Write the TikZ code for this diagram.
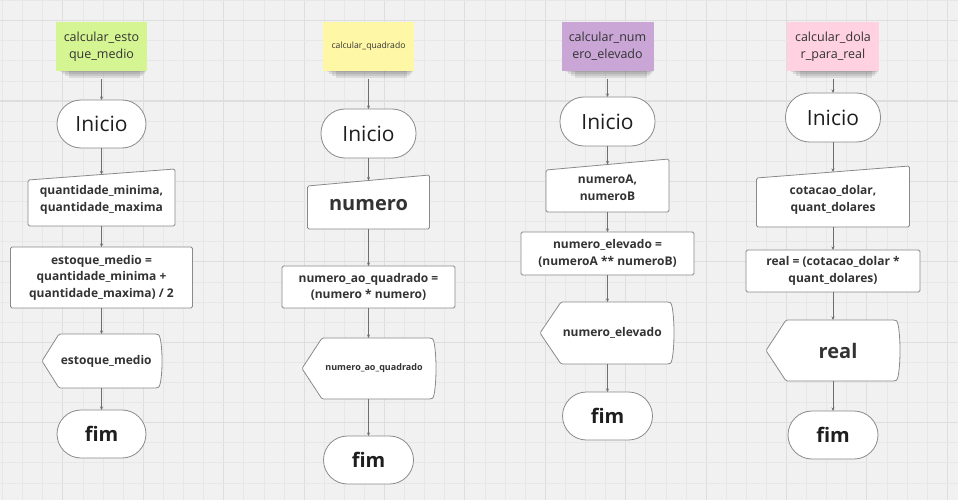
\documentclass[tikz,border=0pt]{standalone}
\usepackage{fontspec}
\setmainfont{Open Sans}
\usetikzlibrary{arrows.meta,calc}
\pgfdeclarelayer{gridlayer}
\pgfdeclarelayer{shapelayer}
\pgfsetlayers{gridlayer,shapelayer,main}
\definecolor{bgc}{HTML}{F1F1F1}
\definecolor{minorc}{HTML}{E7E7E7}
\definecolor{majorc}{HTML}{DEDEDE}
\definecolor{edge}{HTML}{8A8A8A}
\definecolor{arrowc}{HTML}{6E6E6E}
\definecolor{txt}{HTML}{333333}
\definecolor{txtdark}{HTML}{1E1E1E}
\definecolor{sgreen}{HTML}{D5F592}
\definecolor{syellow}{HTML}{FDF7A6}
\definecolor{spurple}{HTML}{C9A6D6}
\definecolor{spink}{HTML}{FFD1E1}
\tikzset{
 every node/.style={inner sep=0pt, outer sep=0pt},
 sticky/.style={rectangle, minimum width=91pt, minimum height=49pt, align=center, text=txt, font=\fontsize{12.5}{17}\selectfont},
 term/.style={rectangle, rounded corners=24pt, draw=edge, line width=0.8pt, fill=white, minimum height=48pt, text=txtdark},
 inicio/.style={term, font=\fontsize{21}{24}\selectfont},
 fimst/.style={term, font=\fontsize{20}{24}\selectfont\bfseries},
 proc/.style={rectangle, rounded corners=1.5pt, draw=edge, line width=0.8pt, fill=white, align=center, text=txt, font=\fontsize{12}{16.5}\selectfont\bfseries},
 iobox/.style={rectangle, align=center, text=txt, font=\fontsize{12}{17}\selectfont\bfseries},
 dispbox/.style={rectangle, align=center, text=txt, font=\fontsize{12}{16}\selectfont\bfseries},
 outline/.style={draw=edge, line width=0.8pt, fill=white, rounded corners=1.5pt},
 flow/.style={draw=arrowc, line width=0.7pt, -{Stealth[length=3.5pt,width=3pt]}},
 shadowst/.style={fill=black, opacity=0.09},
}
\newcommand{\iooutline}[2]{\draw[outline] ([yshift=-#2]#1.north west) -- ([yshift=#2]#1.north east) -- (#1.south east) -- (#1.south west) -- cycle;}
\newcommand{\dispoutline}[2]{\draw[outline] ([xshift=-#2]#1.west) -- ([xshift=#2]#1.north west) -- ([xshift=-5pt]#1.north east) .. controls ([xshift=-1pt,yshift=-2pt]#1.north east) and ([yshift=10pt]#1.east) .. (#1.east) .. controls ([yshift=-10pt]#1.east) and ([xshift=-1pt,yshift=2pt]#1.south east) .. ([xshift=-5pt]#1.south east) -- ([xshift=#2]#1.south west) -- cycle;}
\newcommand{\stickyshadow}[1]{%
 \fill[shadowst] ([xshift=4pt,yshift=2pt]#1.south west) rectangle ([xshift=-1pt,yshift=-1.5pt]#1.south east);
 \fill[shadowst] ([xshift=6pt,yshift=2pt]#1.south west) rectangle ([xshift=-2pt,yshift=-3.5pt]#1.south east);
 \fill[shadowst] ([xshift=9pt,yshift=2pt]#1.south west) rectangle ([xshift=-4pt,yshift=-5.5pt]#1.south east);
 \fill[shadowst] ([xshift=13pt,yshift=2pt]#1.south west) rectangle ([xshift=-7pt,yshift=-7pt]#1.south east);}
\begin{document}
\begin{tikzpicture}[x=1pt,y=-1pt]
\useasboundingbox (0,0) rectangle (958,500);
\begin{pgfonlayer}{gridlayer}
 \fill[bgc] (0,0) rectangle (958,500);
 \foreach \i in {0,...,48}{
  \pgfmathsetmacro\gx{2.6+20.1*\i}
  \pgfmathtruncatemacro\gm{mod(\i,4)}
  \ifnum\gm=3 \draw[majorc, line width=1.1pt] (\gx,0) -- (\gx,500);
  \else \draw[minorc, line width=0.7pt] (\gx,0) -- (\gx,500); \fi
 }
 \foreach \j in {0,...,25}{
  \pgfmathsetmacro\gy{0.5+20.1*\j}
  \pgfmathtruncatemacro\gm{mod(\j,4)}
  \ifnum\gm=1 \draw[majorc, line width=1.1pt] (0,\gy) -- (958,\gy);
  \else \draw[minorc, line width=0.7pt] (0,\gy) -- (958,\gy); \fi
 }
\end{pgfonlayer}

% ---------- column 1 ----------
\node[sticky, fill=sgreen] (s1) at (101.5,46.5) {calcular\_esto\\que\_medio};
\node[inicio, minimum width=89pt] (i1) at (101.5,124) {Inicio};
\node[iobox, minimum width=147pt, minimum height=51.5pt] (io1) at (101.5,200.25) {quantidade\_minima,\\quantidade\_maxima};
\node[proc, minimum width=182pt, minimum height=61pt] (p1) at (101.5,277.5) {estoque\_medio =\\quantidade\_minima +\\quantidade\_maxima) / 2};
\node[dispbox, minimum width=111.5pt, minimum height=54pt] (d1) at (106.25,361) {estoque\_medio};
\node[fimst, minimum width=89pt] (f1) at (101.5,434) {fim};

% ---------- column 2 ----------
\node[sticky, fill=syellow, font=\fontsize{8.6}{11}\selectfont] (s2) at (368.5,46.5) {calcular\_quadrado};
\node[inicio, minimum width=95pt, minimum height=49pt] (i2) at (368.5,133.5) {Inicio};
\node[iobox, minimum width=122pt, minimum height=48.5pt, font=\fontsize{20}{24}\selectfont\bfseries] (io2) at (368.5,204.75) {numero};
\node[proc, minimum width=173pt, minimum height=42pt] (p2) at (368.5,287) {numero\_ao\_quadrado =\\(numero * numero)};
\node[dispbox, minimum width=124pt, minimum height=61pt, font=\fontsize{9}{12}\selectfont\bfseries] (d2) at (374,368.5) {numero\_ao\_quadrado};
\node[fimst, minimum width=90pt] (f2) at (368.5,460) {fim};

% ---------- column 3 ----------
\node[sticky, fill=spurple, minimum width=92pt] (s3) at (607.5,46.5) {calcular\_num\\ero\_elevado};
\node[inicio, minimum width=95pt, minimum height=49pt] (i3) at (607.5,121.5) {Inicio};
\node[iobox, minimum width=123pt, minimum height=47.5pt] (io3) at (607.5,188.25) {numeroA,\\numeroB};
\node[proc, minimum width=173pt, minimum height=43pt] (p3) at (607.5,253.5) {numero\_elevado =\\(numeroA ** numeroB)};
\node[dispbox, minimum width=123.5pt, minimum height=62pt] (d3) at (612.25,333) {numero\_elevado};
\node[fimst, minimum width=90pt] (f3) at (607.5,416) {fim};

% ---------- column 4 ----------
\node[sticky, fill=spink, minimum width=92pt] (s4) at (833,46.5) {calcular\_dola\\r\_para\_real};
\node[inicio, minimum width=95pt, minimum height=49pt] (i4) at (833,117.5) {Inicio};
\node[iobox, minimum width=153pt, minimum height=55pt] (io4) at (833,199.5) {cotacao\_dolar,\\quant\_dolares};
\node[proc, minimum width=174pt, minimum height=42pt] (p4) at (833,271) {real = (cotacao\_dolar *\\quant\_dolares)};
\node[dispbox, minimum width=124pt, minimum height=61pt, font=\fontsize{20}{24}\selectfont\bfseries] (d4) at (838,350.5) {real};
\node[fimst, minimum width=90pt] (f4) at (833,435) {fim};

% ---------- outlines ----------
\begin{pgfonlayer}{shapelayer}
 \stickyshadow{s1}\stickyshadow{s2}\stickyshadow{s3}\stickyshadow{s4}
 \iooutline{io1}{5.5pt}
 \iooutline{io2}{5.5pt}
 \iooutline{io3}{5.5pt}
 \iooutline{io4}{6pt}
 \dispoutline{d1}{8.5pt}
 \dispoutline{d2}{10pt}
 \dispoutline{d3}{10.5pt}
 \dispoutline{d4}{10pt}
\end{pgfonlayer}

% ---------- connectors ----------
\foreach \c in {1,2,3,4}{
 \draw[flow, shorten <=8pt] (s\c.south) -- (i\c.north);
 \draw[flow] (i\c.south) -- (io\c.north);
 \draw[flow] (io\c.south) -- (p\c.north);
 \draw[flow] (p\c.south) -- (p\c.south |- d\c.north);
 \draw[flow] (f\c.north |- d\c.south) -- (f\c.north);
}
\end{tikzpicture}
\end{document}
